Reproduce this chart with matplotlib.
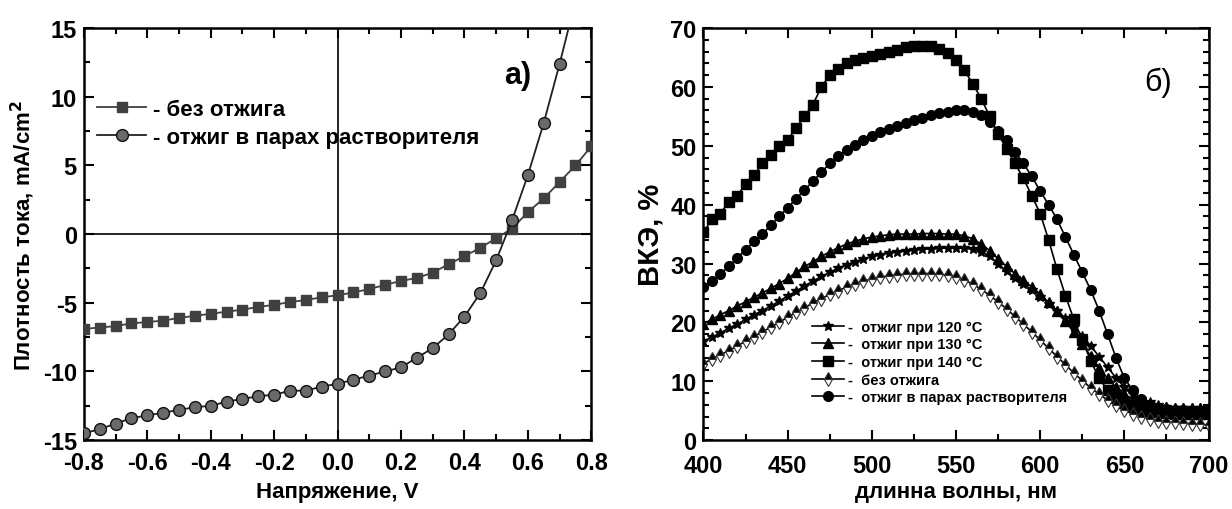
import matplotlib.pyplot as plt
from matplotlib.ticker import MultipleLocator

plt.rcParams['font.family'] = ['Liberation Sans', 'DejaVu Sans']
plt.rcParams['axes.unicode_minus'] = False

# panel a: J-V curves
voltage = [round(-0.8 + 0.05 * i, 2) for i in range(33)]
j_none = [-6.9, -6.8, -6.7, -6.5, -6.4, -6.3, -6.1, -5.95, -5.8, -5.65, -5.5,
          -5.3, -5.15, -4.95, -4.8, -4.6, -4.45, -4.25, -4.0, -3.7, -3.4, -3.2,
          -2.8, -2.2, -1.6, -1.0, -0.3, 0.4, 1.6, 2.6, 3.8, 5.0, 6.4]
j_vapor = [-14.5, -14.2, -13.8, -13.4, -13.2, -13.0, -12.8, -12.6, -12.5, -12.2,
           -12.0, -11.8, -11.7, -11.4, -11.4, -11.1, -10.9, -10.6, -10.3, -10.0,
           -9.7, -9.0, -8.3, -7.3, -6.0, -4.3, -1.9, 1.0, 4.3, 8.1, 12.4, 17.0, 22.0]

# panel b: EQE spectra
wavelength = list(range(400, 701, 5))
eqe_120 = [16.8, 17.5, 18.2, 19, 19.7, 20.5, 21.3, 22, 22.8, 23.6, 24.5, 25.3, 26.2,
           27, 27.8, 28.5, 29.2, 29.8, 30.3, 30.8, 31.2, 31.5, 31.8, 32, 32.1, 32.3,
           32.4, 32.5, 32.6, 32.6, 32.6, 32.6, 32.4, 32, 31.2, 30, 28.7, 27.6, 26.6,
           25.5, 24.4, 23.2, 22, 20.7, 19.3, 17.7, 16, 14.2, 12.4, 10.6, 9, 7.8, 7,
           6.4, 6, 5.7, 5.5, 5.4, 5.4, 5.4, 5.4]
eqe_130 = [19.8, 20.5, 21.3, 22, 22.8, 23.5, 24.3, 25, 25.8, 26.6, 27.5, 28.5, 29.5,
           30.3, 31.2, 32, 32.7, 33.3, 33.8, 34.2, 34.5, 34.7, 34.9, 35, 35, 35, 35.1,
           35.1, 35.1, 35, 35, 34.7, 34.2, 33.3, 32.2, 30.8, 29.5, 28.3, 27.2, 26,
           24.8, 23.4, 22, 20.2, 18.3, 16.3, 14.3, 12.3, 10.5, 9, 7.8, 7, 6.4, 6, 5.8,
           5.6, 5.5, 5.5, 5.5, 5.5, 5.5]
eqe_140 = [35.3, 37.5, 38.5, 40.5, 41.5, 43.5, 45, 47, 48.5, 50, 51, 53, 55, 57, 60,
           62, 63, 64, 64.5, 65, 65.3, 65.6, 65.9, 66.3, 66.7, 67, 67, 66.9, 66.5,
           65.8, 64.5, 62.8, 60.5, 58, 55, 52, 49.5, 47, 44.5, 41.5, 38.5, 34, 29,
           24.5, 20.5, 17, 13.5, 10.5, 8.5, 7.2, 6.3, 5.7, 5.3, 5, 4.8, 4.6, 4.5, 4.5,
           4.5, 4.5, 4.5]
eqe_none = [13, 13.8, 14.5, 15.2, 16, 16.8, 17.6, 18.4, 19.2, 20, 20.9, 21.7, 22.5,
            23.3, 24, 24.8, 25.4, 26, 26.6, 27, 27.4, 27.7, 27.9, 28.1, 28.2, 28.3,
            28.3, 28.3, 28.2, 28, 27.7, 27.2, 26.5, 25.6, 24.6, 23.5, 22.3, 21, 19.7,
            18.4, 17, 15.6, 14.2, 12.8, 11.4, 10.1, 8.9, 7.8, 6.8, 5.9, 5.1, 4.5, 4,
            3.6, 3.3, 3.1, 3, 2.9, 2.8, 2.7, 2.6]
eqe_vapor = [26, 27, 28.3, 29.5, 31, 32.3, 33.8, 35, 36.5, 38, 39.5, 41, 42.5, 44,
             45.5, 47, 48.3, 49.3, 50.2, 51, 51.6, 52.3, 52.8, 53.3, 53.8, 54.3, 54.8,
             55.2, 55.5, 55.8, 56, 56, 55.7, 55.2, 54, 52.5, 51, 49, 47, 44.8, 42.3,
             40, 37.5, 34.5, 31.5, 28.5, 25.5, 22, 18, 14, 10.5, 8.5, 7, 6, 5.5, 5.3,
             5.2, 5.1, 5, 5, 5]

fig = plt.figure(figsize=(12.32, 5.10), dpi=100)
ax1 = fig.add_axes([0.068, 0.135, 0.412, 0.808])
ax2 = fig.add_axes([0.571, 0.135, 0.410, 0.808])

for ax in (ax1, ax2):
    ax.tick_params(which='both', direction='in', top=True, right=True, width=1.5)
    ax.tick_params(which='major', length=7, labelsize=17)
    ax.tick_params(axis='x', which='major', pad=8)
    ax.tick_params(axis='y', which='major', pad=5)
    ax.tick_params(which='minor', length=4)
    for s in ax.spines.values():
        s.set_linewidth(1.8)
ax2.tick_params(axis='x', which='major', pad=10)

# --- a)
ax1.axhline(0, color='black', lw=1.2, zorder=1)
ax1.axvline(0, color='black', lw=1.2, zorder=1)
ax1.plot(voltage, j_none, color='#404040', lw=1.3, marker='s', ms=7,
         mfc='#404040', mec='#404040', label='- без отжига', zorder=3)
ax1.plot(voltage, j_vapor, color='#202020', lw=1.3, marker='o', ms=8.5,
         mfc='#6a6a6a', mec='#111111', mew=1.0,
         label='- отжиг в парах растворителя', zorder=3)
ax1.set_xlim(-0.8, 0.8)
ax1.set_ylim(-15, 15)
ax1.xaxis.set_major_locator(MultipleLocator(0.2))
ax1.xaxis.set_minor_locator(MultipleLocator(0.1))
ax1.yaxis.set_major_locator(MultipleLocator(5))
ax1.yaxis.set_minor_locator(MultipleLocator(2.5))
ax1.set_xlabel('Напряжение, V', fontsize=16, fontweight='bold', labelpad=5)
ax1.set_ylabel('Плотность тока, mA/cm$^\\mathbf{2}$', fontsize=16, fontweight='bold', labelpad=4)
ax1.text(0.855, 0.885, 'а)', transform=ax1.transAxes, fontsize=22, fontweight='bold',
         ha='center', va='center')
ax1.legend(loc='upper left', bbox_to_anchor=(0.0, 0.86), frameon=False,
           prop={'weight': 'bold', 'size': 16},
           handlelength=2.2, handletextpad=0.3, labelspacing=0.3, borderaxespad=0.2)

# --- б)
ax2.plot(wavelength, eqe_120, color='black', lw=1.2, marker='*', ms=7.5, label='-  отжиг при 120 °C')
ax2.plot(wavelength, eqe_130, color='black', lw=1.2, marker='^', ms=7, label='-  отжиг при 130 °C')
ax2.plot(wavelength, eqe_140, color='black', lw=1.2, marker='s', ms=6.5, label='-  отжиг при 140 °C')
ax2.plot(wavelength, eqe_none, color='black', lw=1.2, marker='d', ms=7.5, fillstyle='top',
         mfc='black', mfcalt='white', mec='#333333', mew=0.8, label='-  без отжига')
ax2.plot(wavelength, eqe_vapor, color='black', lw=1.2, marker='o', ms=7,
         label='-  отжиг в парах растворителя')
ax2.set_xlim(400, 700)
ax2.set_ylim(0, 70)
ax2.xaxis.set_major_locator(MultipleLocator(50))
ax2.xaxis.set_minor_locator(MultipleLocator(25))
ax2.yaxis.set_major_locator(MultipleLocator(10))
ax2.yaxis.set_minor_locator(MultipleLocator(2))
ax2.set_xlabel('длинна волны, нм', fontsize=16, fontweight='bold', labelpad=3)
ax2.set_ylabel('ВКЭ, %', fontsize=21, fontweight='bold', labelpad=4)
ax2.text(0.9, 0.87, 'б)', transform=ax2.transAxes, fontsize=22, ha='center', va='center')
ax2.legend(loc='upper left', bbox_to_anchor=(0.2, 0.31), frameon=False,
           prop={'weight': 'bold', 'size': 10.5}, handlelength=2.2, handletextpad=0.3,
           labelspacing=0.25, borderaxespad=0.1)

for ax in (ax1, ax2):
    for lab in ax.get_xticklabels() + ax.get_yticklabels():
        lab.set_fontweight('bold')

fig.savefig('out.png', dpi=100)
